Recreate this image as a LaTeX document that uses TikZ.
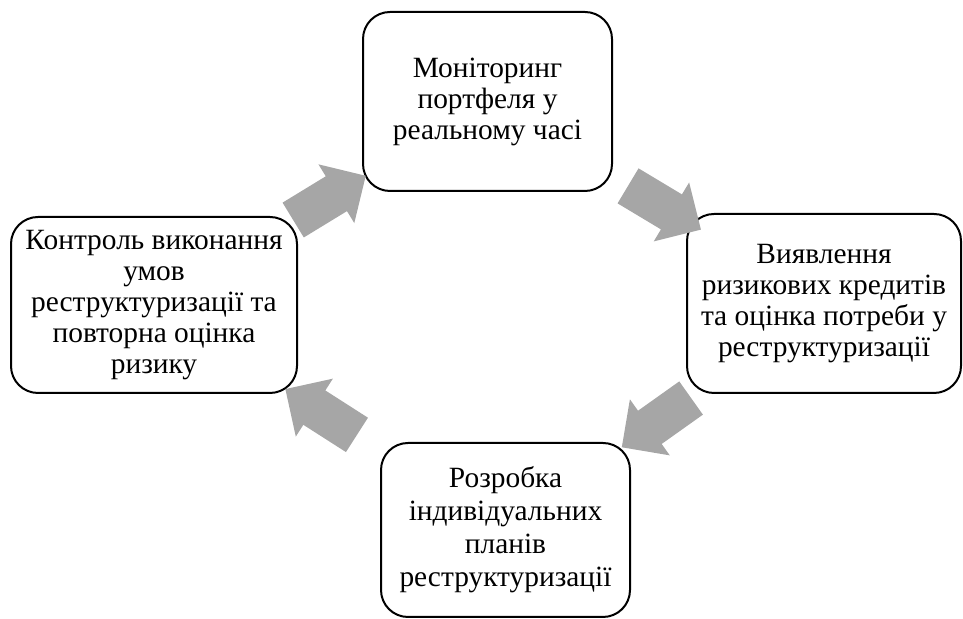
\documentclass[tikz,border=0pt]{standalone}
\usepackage{fontspec}
\setmainfont{Liberation Serif}
\usetikzlibrary{shapes.arrows}
\definecolor{arrowgray}{RGB}{166,166,166}

\begin{document}
\begin{tikzpicture}[
    x=0.5pt,
    y=0.5pt,
    step_box/.style={rectangle, draw, line width=1pt, rounded corners=13.5pt, align=center, inner sep=2pt, font=\fontsize{14.7pt}{15.5pt}\selectfont},
    flow_arrow/.style={single arrow, draw=none, fill=arrowgray, minimum height=42.5pt, inner sep=10pt, single arrow head extend=7pt, sloped, allow upside down}
]
  \useasboundingbox (0,0) rectangle (963,619);
  % Stages of the cycle
  \node[step_box, minimum width=124.5pt, minimum height=89.5pt] (monitor) at (487.5,517.5) {Моніторинг\\портфеля у\\реальному часі};
  \node[step_box, minimum width=137pt, minimum height=89.5pt] (detect) at (824,315.5) {Виявлення\\ризикових кредитів\\та оцінка потреби у\\реструктуризації};
  \node[step_box, minimum width=124.5pt, minimum height=87pt, font=\fontsize{14.7pt}{16.5pt}\selectfont] (plan) at (505.5,89) {Розробка\\індивідуальних\\планів\\реструктуризації};
  \node[step_box, minimum width=143pt, minimum height=88pt] (control) at (154,314) {Контроль виконання\\умов\\реструктуризації та\\повторна оцінка\\ризику};
  % Block arrows between stages
  \foreach \from/\to in {control/monitor, monitor/detect, detect/plan, plan/control} {
    \path (\from.center) -- node[flow_arrow] (arr-\from) {} (\to.center);
  }
\end{tikzpicture}
\end{document}
